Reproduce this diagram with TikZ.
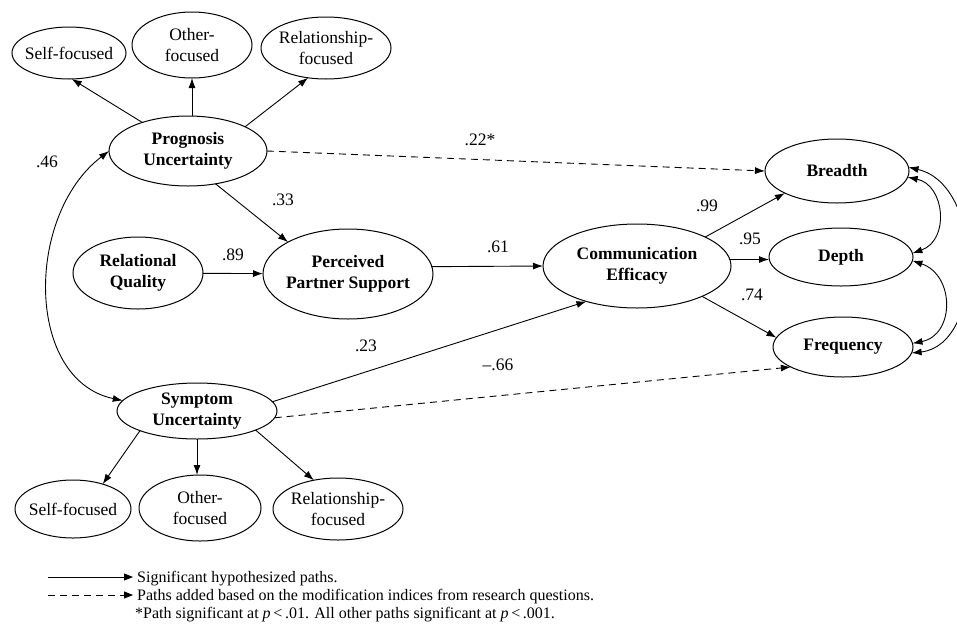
\documentclass[tikz,border=0pt]{standalone}
\usepackage{fontspec}
\setmainfont{Liberation Serif}
\usetikzlibrary{arrows.meta,shapes.geometric}
\begin{document}
\begin{tikzpicture}[x=1pt,y=-1pt,
  lat/.style 2 args={ellipse, draw, line width=1pt, minimum width=#1pt, minimum height=#2pt, inner sep=0pt, outer sep=0pt},
  ltxt/.style={font=\fontsize{17.5}{21}\selectfont\bfseries, align=center, inner sep=0pt},
  itxt/.style={font=\fontsize{17.5}{21}\selectfont, align=center, inner sep=0pt},
  coef/.style={font=\fontsize{17.5}{21}\selectfont, inner sep=0pt},
  legtxt/.style={font=\fontsize{16}{19}\selectfont, inner sep=0pt, anchor=base west},
  arr/.style={line width=0.9pt, -{Latex[length=10pt,width=7pt]}},
  darr/.style={arr, dash pattern=on 7pt off 5pt},
  cov/.style={line width=0.9pt, {Latex[length=10pt,width=7pt]}-{Latex[length=10pt,width=7pt]}}
]
\useasboundingbox (0,0) rectangle (957,624);

% indicators top
\node[lat={114}{52}, label={[itxt]center:Self-focused}] (sf1) at (69,53) {};
\node[lat={120}{66}, label={[itxt]center:Other-\\focused}] (of1) at (192,45) {};
\node[lat={130}{62}, label={[itxt]center:Relationship-\\focused}] (rf1) at (326,48) {};

% latent
\node[lat={158}{70}, label={[ltxt]center:Prognosis\\Uncertainty}] (pu) at (188,151) {};
\node[lat={130}{72}, label={[ltxt]center:Relational\\Quality}] (rq) at (138,273) {};
\node[lat={170}{90}, label={[ltxt]center:Perceived\\Partner Support}] (pps) at (348,274) {};
\node[lat={188}{84}, label={[ltxt]center:Communication\\Efficacy}] (ce) at (637,266) {};
\node[lat={144}{64}, label={[ltxt]center:Breadth}] (br) at (837,171) {};
\node[lat={144}{58}, label={[ltxt]center:Depth}] (dp) at (841,257) {};
\node[lat={140}{60}, label={[ltxt]center:Frequency}] (fr) at (843,347) {};
\node[lat={160}{56}, label={[ltxt]center:Symptom\\Uncertainty}] (su) at (197,411) {};

% indicators bottom
\node[lat={116}{58}, label={[itxt]center:Self-focused}] (sf2) at (73,509) {};
\node[lat={122}{66}, label={[itxt]center:Other-\\focused}] (of2) at (200,508) {};
\node[lat={130}{62}, label={[itxt]center:Relationship-\\focused}] (rf2) at (338,509) {};

% measurement paths
\draw[arr] (pu.148) -- (sf1.276);
\draw[arr] (of1.south |- pu.north) -- (of1.south);
\draw[arr] (pu.23) -- (rf1.239);
\draw[arr] (su.199) -- (sf2.40);
\draw[arr] (su.south) -- (su.south |- of2.north);
\draw[arr] (su.342) -- (rf2.130);

% structural paths
\draw[arr] (pu.310) -- (pps.152);
\draw[arr] (rq) -- (pps);
\draw[arr] (pps.5) -- (ce.west);
\draw[arr] (su.7) -- (ce.215);
\draw[arr] (ce.23) -- (br.203);
\draw[arr] (ce.4) -- (ce.4 -| dp.west);
\draw[arr] (ce.335) -- (fr.172);
\draw[darr] (pu.east) -- (br.west);
\draw[darr] (su.355) -- (fr.201);

% covariances
\draw[cov] (pu.west) .. controls (25,215) and (25,380) .. (su.172);
\draw[cov] (br.355) .. controls (945,185) and (950,240) .. (dp.3);
\draw[cov] (dp.357) .. controls (955,275) and (955,335) .. (fr.3);
\draw[cov] (br.3) .. controls (985,185) and (985,345) .. (fr.355);

% coefficients
\node[coef] (c46) at (47,162) {.46};
\node[coef] (c22) at (480,140) {.22*};
\node[coef] (c33) at (283,200) {.33};
\node[coef] (c89) at (233,255) {.89};
\node[coef] (c61) at (498,247) {.61};
\node[coef] (c99) at (707,206) {.99};
\node[coef] (c95) at (750,239) {.95};
\node[coef] (c74) at (752,295) {.74};
\node[coef] (c23) at (366,346) {.23};
\node[coef] (c66) at (498,365) {\textendash.66};

% legend
\coordinate (l1a) at (48,577);
\coordinate (l1b) at (133,577);
\coordinate (l2a) at (48,595);
\coordinate (l2b) at (133,595);
\draw[line width=0.9pt, -{Triangle[length=9pt,width=7pt]}] (l1a) -- (l1b);
\draw[line width=0.9pt, dash pattern=on 7pt off 5pt, -{Triangle[length=9pt,width=7pt]}] (l2a) -- (l2b);
\node[legtxt] (t1) at (137,582) {Significant hypothesized paths.};
\node[legtxt] (t2) at (137,600) {Paths added based on the modification indices from research questions.};
\node[legtxt] (t3) at (135,618) {*Path significant at \textit{p}\,<\,.01. All other paths significant at \textit{p}\,<\,.001.};
\end{tikzpicture}
\end{document}
